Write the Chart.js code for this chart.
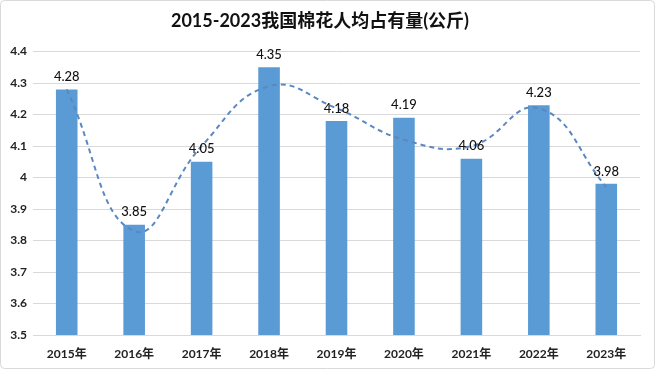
<!DOCTYPE html>
<html>
<head>
<meta charset="utf-8">
<script src="https://cdn.jsdelivr.net/npm/chart.js@4.4.1/dist/chart.umd.min.js"></script>
<style>
html,body{margin:0;padding:0;background:#fff;}
canvas{display:block;}
</style>
</head>
<body>
<canvas id="c" width="655" height="369"></canvas>
<script>
const titleText = '2015-2023我国棉花人均占有量(公斤)';
const categories = ['2015年','2016年','2017年','2018年','2019年','2020年','2021年','2022年','2023年'];
const values = [4.28, 3.85, 4.05, 4.35, 4.18, 4.19, 4.06, 4.23, 3.98];
const trendValues = [4.28, 3.83, 4.10, 4.29, 4.22, 4.12, 4.10, 4.22, 3.97];
const yTicks = [3.5, 3.6, 3.7, 3.8, 3.9, 4.0, 4.1, 4.2, 4.3, 4.4];

const FONT = "Lato, 'Noto Sans CJK SC', sans-serif";

const borderPlugin = {
  id: 'outerBorder',
  beforeDraw(chart) {
    const ctx = chart.ctx;
    ctx.save();
    ctx.fillStyle = '#fff';
    ctx.fillRect(0, 0, chart.width, chart.height);
    ctx.strokeStyle = '#d9d9d9';
    ctx.lineWidth = 1;
    ctx.beginPath();
    ctx.roundRect(0.5, 0.5, chart.width - 1, chart.height - 1, 4);
    ctx.stroke();
    ctx.restore();
  }
};

const labelPlugin = {
  id: 'barLabels',
  afterDatasetsDraw(chart) {
    const ctx = chart.ctx;
    const meta = chart.getDatasetMeta(0);
    ctx.save();
    ctx.font = "500 13px " + FONT;
    ctx.fillStyle = '#111';
    ctx.textAlign = 'center';
    ctx.textBaseline = 'bottom';
    meta.data.forEach((bar, i) => {
      ctx.fillText(values[i].toFixed(2), bar.x, bar.y - 6);
    });
    ctx.restore();
  }
};

new Chart(document.getElementById('c'), {
  data: {
    labels: categories,
    datasets: [
      {
        type: 'bar',
        data: values,
        backgroundColor: '#5B9BD5',
        barPercentage: 0.32,
        categoryPercentage: 1,
        order: 1
      },
      {
        type: 'line',
        data: trendValues,
        borderColor: '#5A88C2',
        borderWidth: 2,
        borderDash: [5, 4],
        pointRadius: 0,
        tension: 0.45,
        fill: false,
        order: 0
      }
    ]
  },
  options: {
    responsive: false,
    animation: false,
    layout: { padding: { left: 0, right: 15, top: 0, bottom: 8 } },
    plugins: {
      legend: { display: false },
      tooltip: { enabled: false },
      title: {
        display: true,
        text: titleText,
        color: '#111',
        font: { family: FONT, size: 18, weight: 'bold' },
        padding: { top: 10, bottom: 20 }
      }
    },
    scales: {
      x: {
        grid: { display: false },
        border: { display: true, color: '#d9d9d9' },
        ticks: {
          color: '#222',
          font: { family: FONT, size: 12, weight: 'bold' },
          maxRotation: 0,
          padding: 4
        },
        afterFit(s) { s.height = 26; }
      },
      y: {
        min: 3.5,
        max: 4.4,
        afterBuildTicks(s) { s.ticks = yTicks.map(v => ({ value: v })); },
        grid: { color: '#d9d9d9', drawTicks: false },
        border: { display: false },
        ticks: {
          color: '#222',
          font: { family: FONT, size: 12, weight: 'bold' },
          padding: 6,
          callback: v => String(Math.round(v * 10) / 10)
        },
        afterFit(s) { s.width = 33; }
      }
    }
  },
  plugins: [borderPlugin, labelPlugin]
});
</script>
</body>
</html>
